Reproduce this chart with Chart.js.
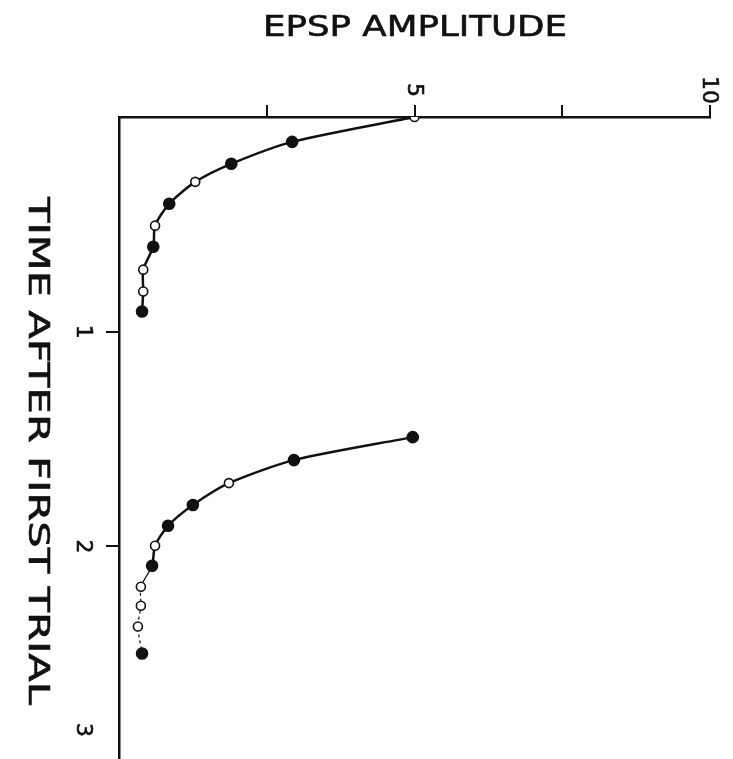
<!DOCTYPE html>
<html>
<head>
<meta charset="utf-8">
<script src="https://cdn.jsdelivr.net/npm/chart.js@4/dist/chart.umd.min.js"></script>
<style>
  html, body { margin: 0; padding: 0; background: #fff; }
  #wrap { width: 733px; height: 759px; }
</style>
</head>
<body>
<div id="wrap"><canvas id="chart" width="733" height="759"></canvas></div>
<script>
// values (amplitude on top axis, time running downward)
const ampTicks = [2.5, 5, 7.5, 10];
const ampLabels = ['', '5', '', '10'];
const timeTicks = [1, 2];
const timeLabels = ['1', '2', '3'];

const firstTime = [0, 0.116, 0.218, 0.302, 0.404, 0.506, 0.604, 0.711, 0.813, 0.906];
const firstAmp  = [5.0, 2.93, 1.90, 1.29, 0.85, 0.61, 0.58, 0.41, 0.41, 0.39];
const firstOpen = [true, false, false, true, false, true, false, true, true, false];

const secondTime = [1.491, 1.598, 1.705, 1.807, 1.904, 1.997, 2.090, 2.188, 2.276, 2.373, 2.499];
const secondAmp  = [4.97, 2.96, 1.86, 1.25, 0.83, 0.61, 0.56, 0.37, 0.37, 0.32, 0.39];
const secondOpen = [false, false, true, false, false, true, false, true, true, true, false];

const ink = '#111';

function makeSet(amp, time, open, dashFrom) {
  return {
    data: amp.map((a, i) => ({ x: a, y: time[i] })),
    showLine: true,
    tension: 0.25,
    borderColor: ink,
    borderWidth: 2.5,
    pointRadius: open.map(o => o ? 4.5 : 5.5),
    pointBackgroundColor: open.map(o => o ? '#fff' : ink),
    pointBorderColor: ink,
    pointBorderWidth: 1.6,
    segment: {
      borderWidth: ctx => ctx.p0DataIndex >= dashFrom ? 1.2 : 2.5,
      borderDash: ctx => ctx.p0DataIndex >= dashFrom + 1 ? [3, 3] : undefined
    }
  };
}

// draws text a little heavier, like the inked lettering
function inkText(ctx, s) {
  ctx.fillText(s, 0, 0);
  ctx.strokeText(s, 0, 0);
}

// text drawn by hand, rotated like the original figure
const textPlugin = {
  id: 'figText',
  afterDraw(chart) {
    const ctx = chart.ctx;
    const xs = chart.scales.x;
    const ys = chart.scales.y;
    const area = chart.chartArea;
    ctx.save();
    ctx.fillStyle = ink;
    ctx.strokeStyle = ink;
    ctx.lineWidth = 0.6;
    ctx.textAlign = 'center';
    ctx.textBaseline = 'middle';

    // title
    ctx.font = '28px "DejaVu Sans", sans-serif';
    let w = ctx.measureText('EPSP AMPLITUDE').width;
    ctx.save();
    ctx.translate(415, 29);
    ctx.scale(304 / w, 1);
    inkText(ctx, 'EPSP AMPLITUDE');
    ctx.restore();

    // vertical axis title
    ctx.font = '29px "DejaVu Sans", sans-serif';
    w = ctx.measureText('TIME AFTER FIRST TRIAL').width;
    ctx.save();
    ctx.translate(37, 451);
    ctx.rotate(Math.PI / 2);
    ctx.scale(508 / w, 1);
    inkText(ctx, 'TIME AFTER FIRST TRIAL');
    ctx.restore();

    // amplitude tick labels
    ctx.font = '22px "DejaVu Sans", sans-serif';
    ampTicks.forEach((v, i) => {
      if (!ampLabels[i]) return;
      ctx.save();
      ctx.translate(xs.getPixelForValue(v) - 1, area.top - 27);
      ctx.rotate(Math.PI / 2);
      inkText(ctx, ampLabels[i]);
      ctx.restore();
    });

    // time tick labels
    timeLabels.forEach((t, i) => {
      const py = Math.min(ys.getPixelForValue(i + 1), area.bottom - 29);
      ctx.save();
      ctx.translate(area.left - 36, py);
      ctx.rotate(Math.PI / 2);
      inkText(ctx, t);
      ctx.restore();
    });
    ctx.restore();
  }
};

new Chart(document.getElementById('chart'), {
  type: 'scatter',
  data: {
    datasets: [
      makeSet(firstAmp, firstTime, firstOpen, 99),
      makeSet(secondAmp, secondTime, secondOpen, 6)
    ]
  },
  options: {
    responsive: false,
    animation: false,
    layout: { autoPadding: false, padding: { left: 119, top: 117, right: 23, bottom: 0 } },
    plugins: { legend: { display: false }, tooltip: { enabled: false } },
    scales: {
      x: {
        type: 'linear',
        position: 'top',
        min: 0,
        max: 10,
        afterFit: s => { s.height = 0; },
        afterBuildTicks: s => { s.ticks = ampTicks.map(v => ({ value: v })); },
        ticks: { display: false },
        grid: { drawOnChartArea: false, drawTicks: true, tickLength: 12, color: ink, lineWidth: 2 },
        border: { display: true, color: ink, width: 2.5 }
      },
      y: {
        type: 'linear',
        position: 'left',
        reverse: true,
        min: 0,
        max: 2.99,
        afterFit: s => { s.width = 0; },
        afterBuildTicks: s => { s.ticks = timeTicks.map(v => ({ value: v })); },
        ticks: { display: false },
        grid: { drawOnChartArea: false, drawTicks: true, tickLength: 13, color: ink, lineWidth: 2 },
        border: { display: true, color: ink, width: 2.5 }
      }
    }
  },
  plugins: [textPlugin]
});
</script>
</body>
</html>
